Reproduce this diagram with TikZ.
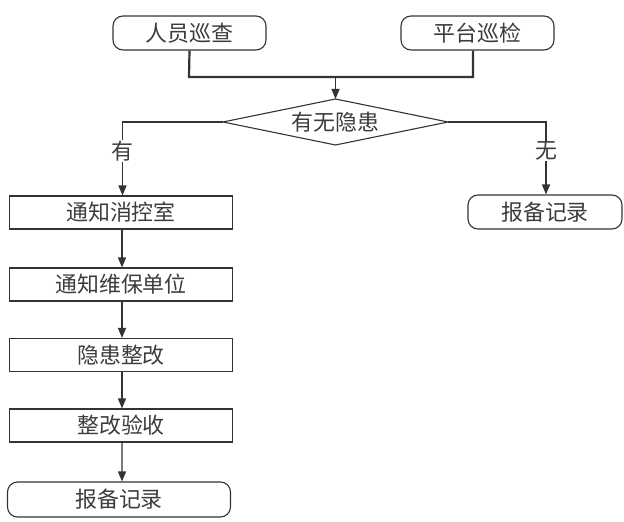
\documentclass[tikz,border=0pt]{standalone}
\usepackage{fontspec}
\setmainfont{Noto Sans CJK SC}
\usetikzlibrary{arrows.meta,shapes.geometric}
\definecolor{ink}{HTML}{333333}
\definecolor{txt}{HTML}{3C3C3C}
\begin{document}
\begin{tikzpicture}[x=1bp,y=-1bp,
  every node/.style={font=\fontsize{22}{24}\selectfont, text=txt},
  box/.style={draw=ink, line width=1.1bp, rectangle, minimum width=223bp, minimum height=33bp, inner sep=0pt},
  rbox/.style={draw=ink, line width=1.1bp, rectangle, rounded corners=10bp, minimum width=153bp, minimum height=34bp, inner sep=0pt},
  dline/.style={draw=ink, line width=1.1bp, line join=miter},
  conn/.style={draw=ink, line width=1.3bp},
  thk/.style={draw=ink, line width=2.2bp},
  arr/.style={conn, -{Triangle[length=10bp,width=8bp]}},
  lbl/.style={fill=white, inner sep=1bp}
]
\useasboundingbox (0,0) rectangle (624,522);
\node[rbox] (p1) at (189.5,33) {人员巡查};
\node[rbox] (p2) at (477.5,33) {平台巡检};
\node (d) at (335.5,122) {有无隐患};
\coordinate (dN) at (335.5,99);
\coordinate (dS) at (335.5,145);
\coordinate (dW) at (223,122);
\coordinate (dE) at (448,122);
\draw[dline] (dN) -- (dE) -- (dS) -- (dW) -- cycle;
\node[box] (b1) at (121,212.5) {通知消控室};
\node[box] (b2) at (121,284.5) {通知维保单位};
\node[box] (b3) at (121,355) {隐患整改};
\node[box] (b4) at (121,425.5) {整改验收};
\node[rbox, minimum width=223bp, minimum height=35bp] (b5) at (119,499.5) {报备记录};
\node[rbox, minimum width=154bp] (r) at (545,212) {报备记录};
\coordinate (m) at (189,77);
\coordinate (mr) at (473,77);
\coordinate (mc) at (335.5,77);
\draw[thk] (p1.south) -- (m) -- (mr) -- ([xshift=-4.5bp]p2.south);
\draw[arr] (mc) -- (dN);
\draw[arr] (dW) -| node[lbl, pos=0.7] {有} ([xshift=1.5bp]b1.north);
\draw[arr] (dE) -| node[lbl, pos=0.7] {无} ([xshift=1bp]r.north);
\draw[arr] ([xshift=1bp]b1.south) -- ([xshift=1bp]b2.north);
\draw[arr] ([xshift=1bp]b2.south) -- ([xshift=1bp]b3.north);
\draw[arr] ([xshift=1bp]b3.south) -- ([xshift=1bp]b4.north);
\draw[arr] ([xshift=1bp]b4.south) -- ([xshift=3bp]b5.north);
\end{tikzpicture}
\end{document}
